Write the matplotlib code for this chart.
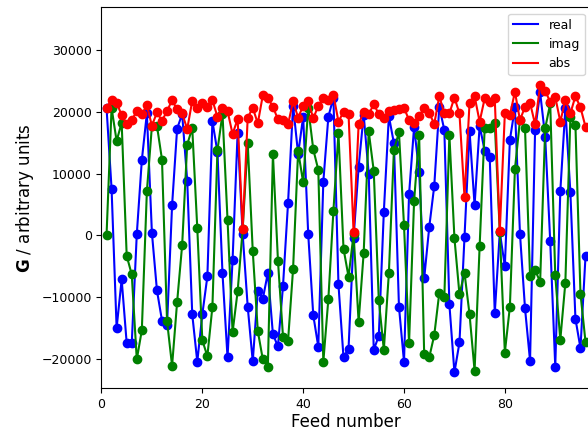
import numpy as np
import matplotlib.pyplot as plt
from matplotlib.lines import Line2D

# Feed values (feed number 1..96)
real = [20650, 7530, -15000, -7150, -17470, -17470, 160, 12160, 19740, 390,
        -8920, -13800, -14500, 4840, 17260, 19630, 8870, -12790, -20480, -12790,
        -6660, 18500, 13460, -6180, -19780, -3970, 16610, 220, -11550, -20420,
        -9030, -10270, -6080, -16010, -18000, -8200, 5220, 20970, 13180, 19200,
        220, -12900, -18050, 8710, 19200, 22310, -7960, -19780, -18330, -420,
        11080, 19500, 9950, -18540, -16280, 3820, 19300, 14890, -11560, -20480,
        6620, 17530, 10330, -6990, 1290, 8010, 20800, 17040, -11180, -22200,
        -17350, -260, 16880, 4840, 17740, 13710, 12740, -12640, 500, -5000,
        15430, 20700, 270, -11820, -20320, 17040, 23120, 15970, -960, -21240,
        7100, 20540, 6940, -13490, -18280, -3390]

imag = [0, 20640, 15270, 18230, -3330, -6340, -20100, -15370, 7100, 17700,
        17740, 12260, -13870, -21130, -10800, -1560, 14680, 17370, 1130, -16990,
        -19570, -11560, 13770, 19680, 2480, -15690, -9090, 950, 15000, -2530,
        -15480, -20100, -21240, 13180, -4090, -16400, -17100, -5430, 13660, 8550,
        20650, 13930, 10600, -20480, -10270, 3980, 16510, -2150, -6720, 200,
        -14030, -2850, 16830, 10430, -10480, -18550, -6070, 13820, 16670, 1620,
        -17470, 5540, 16290, -19190, -19780, -16170, -9300, -10000, 16240, -420,
        -9570, -6080, -12800, -21930, -1770, 17310, 17420, 18230, 500, -18980,
        -11560, 10700, 18650, 17310, -6610, -5640, -7520, 17310, 21340, -6500,
        -16940, -7690, 19190, 17850, -9460, -17260]

absval = [20650, 21880, 21450, 19460, 17960, 18650, 20110, 19570, 21070, 17740,
          19890, 18550, 20110, 21880, 20380, 19730, 17200, 21770, 20540, 21450,
          20810, 21880, 19190, 20650, 20110, 16400, 18820, 1000, 19030, 20650,
          18120, 22690, 22260, 20810, 18760, 18650, 17960, 21720, 19030, 20970,
          21770, 18920, 20970, 22260, 21880, 22790, 18390, 20000, 19620, 480,
          17960, 20000, 19570, 21240, 19620, 18920, 20110, 20270, 20380, 20650,
          18650, 18230, 19350, 20540, 19840, 18010, 22530, 19730, 19730, 22310,
          19730, 6180, 21450, 22530, 18390, 22150, 21610, 22150, 750, 19730,
          19460, 23220, 18650, 20810, 21450, 17960, 24300, 23390, 21610, 22420,
          18390, 21880, 19730, 22530, 20700, 17580]

feed = np.arange(1, len(real) + 1)

fig = plt.figure(figsize=(5.88, 4.33), dpi=100)
ax = fig.add_axes([0.1726, 0.1032, 0.8326, 0.8799])

ax.plot(feed, real, 'bo-')
ax.plot(feed, imag, 'go-')
ax.plot(feed, absval, 'ro-')

ax.set_xlim(0, 97.1)
ax.set_ylim(-24770, 36910)
ax.set_xticks([0, 20, 40, 60, 80])
ax.tick_params(labelsize=9)

ax.set_xlabel('Feed number', fontsize=12, labelpad=1.5)
ax.set_ylabel(r'$\mathbf{G}$ / arbitrary units', fontsize=12, labelpad=4)

# legend shows plain lines only
handles = [Line2D([], [], color=c) for c in ('b', 'g', 'r')]
ax.legend(handles, ['real', 'imag', 'abs'], loc='upper right', fontsize=9)

fig.savefig('out.png', dpi=100)
